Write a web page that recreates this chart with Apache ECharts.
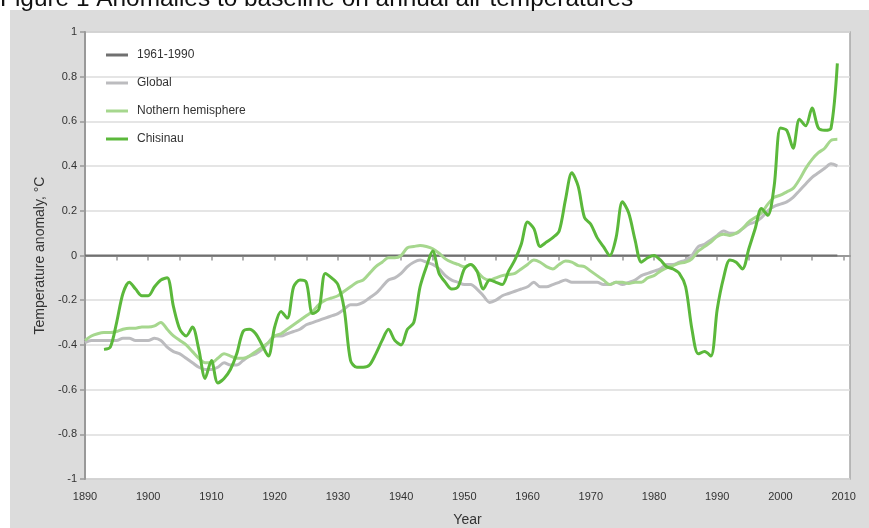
<!DOCTYPE html>
<html>
<head>
<meta charset="utf-8">
<script src="https://cdn.jsdelivr.net/npm/echarts@6/dist/echarts.min.js"></script>
<style>
    html, body { margin: 0; padding: 0; background: #fff; }
    #chart { width: 869px; height: 528px; }
</style>
</head>
<body>
<div id="chart"></div>
<script>
// 数据
var globalStart = 1890;
var globalValues = [
    -0.39, -0.38, -0.38, -0.38, -0.38, -0.38, -0.37, -0.37, -0.38, -0.38,
    -0.38, -0.37, -0.38, -0.41, -0.43, -0.44, -0.46, -0.48, -0.50, -0.51,
    -0.51, -0.50, -0.48, -0.49, -0.49, -0.47, -0.45, -0.44, -0.42, -0.39,
    -0.36, -0.36, -0.35, -0.34, -0.33, -0.31, -0.30, -0.29, -0.28, -0.27,
    -0.26, -0.24, -0.22, -0.22, -0.21, -0.19, -0.17, -0.14, -0.11, -0.10,
    -0.08, -0.05, -0.03, -0.02, -0.03, -0.04, -0.06, -0.09, -0.11, -0.12,
    -0.13, -0.13, -0.15, -0.18, -0.21, -0.20, -0.18, -0.17, -0.16, -0.15,
    -0.14, -0.12, -0.14, -0.14, -0.13, -0.12, -0.11, -0.12, -0.12, -0.12,
    -0.12, -0.12, -0.13, -0.13, -0.12, -0.13, -0.12, -0.11, -0.09, -0.08,
    -0.07, -0.06, -0.04, -0.04, -0.03, -0.02, 0.00, 0.04, 0.05, 0.07,
    0.09, 0.11, 0.10, 0.10, 0.12, 0.14, 0.15, 0.17, 0.20, 0.22,
    0.23, 0.24, 0.26, 0.29, 0.32, 0.35, 0.37, 0.39, 0.41, 0.40
];
var nhStart = 1890;
var nhValues = [
    -0.38, -0.36, -0.35, -0.345, -0.345, -0.34, -0.33, -0.325, -0.325, -0.32,
    -0.32, -0.315, -0.30, -0.33, -0.36, -0.38, -0.40, -0.43, -0.46, -0.48,
    -0.48, -0.46, -0.44, -0.45, -0.46, -0.46, -0.45, -0.43, -0.41, -0.39,
    -0.36, -0.35, -0.33, -0.31, -0.29, -0.27, -0.25, -0.22, -0.20, -0.19,
    -0.18, -0.16, -0.14, -0.12, -0.11, -0.08, -0.05, -0.03, -0.01, -0.01,
    0.00, 0.035, 0.04, 0.045, 0.04, 0.03, 0.01, -0.015, -0.03, -0.04,
    -0.05, -0.04, -0.07, -0.10, -0.11, -0.10, -0.09, -0.085, -0.08, -0.06,
    -0.04, -0.02, -0.03, -0.05, -0.06, -0.04, -0.025, -0.03, -0.045, -0.05,
    -0.07, -0.09, -0.11, -0.13, -0.12, -0.12, -0.125, -0.12, -0.12, -0.10,
    -0.09, -0.07, -0.055, -0.045, -0.035, -0.03, -0.015, 0.02, 0.04, 0.06,
    0.085, 0.095, 0.09, 0.10, 0.12, 0.15, 0.17, 0.19, 0.23, 0.26,
    0.27, 0.285, 0.30, 0.34, 0.39, 0.43, 0.46, 0.48, 0.515, 0.52
];
var chisinauStart = 1893;
var chisinauValues = [
    -0.42, -0.41, -0.30, -0.17, -0.12, -0.15, -0.18,
    -0.18, -0.14, -0.11, -0.10, -0.23, -0.33, -0.36, -0.32, -0.42, -0.55,
    -0.47, -0.57, -0.55, -0.51, -0.44, -0.34, -0.33, -0.35, -0.40, -0.45,
    -0.32, -0.25, -0.28, -0.14, -0.11, -0.12, -0.26, -0.24, -0.08, -0.10,
    -0.13, -0.24, -0.47, -0.50, -0.50, -0.49, -0.44, -0.38, -0.33, -0.38,
    -0.40, -0.33, -0.30, -0.14, -0.05, 0.02, -0.08, -0.12, -0.15, -0.14,
    -0.06, -0.04, -0.07, -0.15, -0.11, -0.12, -0.13, -0.07, -0.02, 0.05,
    0.15, 0.12, 0.04, 0.06, 0.08, 0.11, 0.25, 0.37, 0.31, 0.17,
    0.14, 0.08, 0.04, 0.00, 0.08, 0.24, 0.19, 0.07, -0.03, -0.01,
    0.00, -0.02, -0.05, -0.06, -0.08, -0.14, -0.33, -0.44, -0.43, -0.45,
    -0.24, -0.10, -0.02, -0.03, -0.06, 0.03, 0.12, 0.21, 0.18, 0.31,
    0.57, 0.56, 0.48, 0.61, 0.58, 0.66, 0.57, 0.56, 0.57, 0.86
];
var baselineYears = [1890, 2009];
var baselineValues = [0, 0];

var xLabelYears = [1890, 1900, 1910, 1920, 1930, 1940, 1950, 1960, 1970, 1980, 1990, 2000, 2010];
var xTickYears = [1890, 1895, 1900, 1905, 1910, 1915, 1920, 1925, 1930, 1935, 1940, 1945, 1950,
    1955, 1960, 1965, 1970, 1975, 1980, 1985, 1990, 1995, 2000, 2005, 2010];

// 把年份和数值拼成点
function toPairs (start, values) {
    return values.map(function (v, i) {
        return [start + i, v];
    });
}

var chart = echarts.init(document.getElementById('chart'));

var option = {
    animation: false,
    backgroundColor: '#fff',
    graphic: [
        {
            type: 'text',
            left: 0,
            top: -13,
            z: 0,
            style: {
                text: 'Figure 1 Anomalies to baseline on annual air temperatures',
                font: '24.4px "Liberation Sans", Arial, sans-serif',
                fill: '#111'
            }
        },
        {
            type: 'rect',
            shape: { x: 10, y: 10, width: 859, height: 518 },
            z: -10,
            silent: true,
            style: { fill: '#dcdcdc' }
        }
    ],
    grid: {
        left: 85,
        right: 19,
        top: 32,
        bottom: 49,
        outerBoundsMode: 'none',
        show: true,
        backgroundColor: '#fff',
        borderColor: '#a8a8a8',
        borderWidth: 1.5
    },
    legend: {
        orient: 'vertical',
        left: 106,
        top: 49,
        padding: 0,
        icon: 'rect',
        itemWidth: 22,
        itemHeight: 3,
        itemGap: 16,
        textStyle: {
            fontFamily: '"Liberation Sans", Arial, sans-serif',
            fontSize: 12,
            color: '#333',
            padding: [0, 0, 0, 4]
        },
        data: ['1961-1990', 'Global', 'Nothern hemisphere', 'Chisinau']
    },
    xAxis: {
        type: 'value',
        min: 1890,
        max: 2011,
        interval: 5,
        name: 'Year',
        nameLocation: 'middle',
        nameGap: 34,
        nameTextStyle: {
            fontFamily: '"Liberation Sans", Arial, sans-serif',
            fontSize: 14,
            color: '#333'
        },
        axisLine: { show: true, lineStyle: { color: '#999', width: 2 } },
        axisTick: { show: true, customValues: xTickYears, length: 5, lineStyle: { color: '#999', width: 1.5 } },
        axisLabel: {
            customValues: xLabelYears,
            margin: 12,
            fontFamily: '"Liberation Sans", Arial, sans-serif',
            fontSize: 11,
            color: '#333',
            formatter: function (v) {
                return String(v);
            }
        },
        splitLine: { show: false }
    },
    yAxis: {
        type: 'value',
        min: -1,
        max: 1,
        interval: 0.2,
        name: 'Temperature anomaly, °C',
        nameLocation: 'middle',
        nameGap: 38,
        nameTextStyle: {
            fontFamily: '"Liberation Sans", Arial, sans-serif',
            fontSize: 14,
            color: '#333'
        },
        axisLine: { show: true, lineStyle: { color: '#999', width: 2 } },
        axisTick: { show: true, length: 5, lineStyle: { color: '#999', width: 1.5 } },
        axisLabel: {
            margin: 8,
            fontFamily: '"Liberation Sans", Arial, sans-serif',
            fontSize: 11,
            color: '#333',
            formatter: function (v) {
                return String(Math.round(v * 10) / 10);
            }
        },
        splitLine: { show: true, lineStyle: { color: '#dcdcdc', width: 1.5 } }
    },
    series: [
        {
            name: '1961-1990',
            type: 'line',
            symbol: 'none',
            data: baselineYears.map(function (y, i) { return [y, baselineValues[i]]; }),
            lineStyle: { color: '#707070', width: 2 },
            itemStyle: { color: '#707070' }
        },
        {
            name: 'Global',
            type: 'line',
            symbol: 'none',
            smooth: 0.3,
            data: toPairs(globalStart, globalValues),
            lineStyle: { color: '#bcbcbf', width: 3 },
            itemStyle: { color: '#bcbcbf' }
        },
        {
            name: 'Nothern hemisphere',
            type: 'line',
            symbol: 'none',
            smooth: 0.3,
            data: toPairs(nhStart, nhValues),
            lineStyle: { color: '#a6d78e', width: 3 },
            itemStyle: { color: '#a6d78e' }
        },
        {
            name: 'Chisinau',
            type: 'line',
            symbol: 'none',
            smooth: 0.3,
            data: toPairs(chisinauStart, chisinauValues),
            lineStyle: { color: '#5bb83b', width: 3 },
            itemStyle: { color: '#5bb83b' }
        }
    ]
};

chart.setOption(option);
</script>
</body>
</html>
